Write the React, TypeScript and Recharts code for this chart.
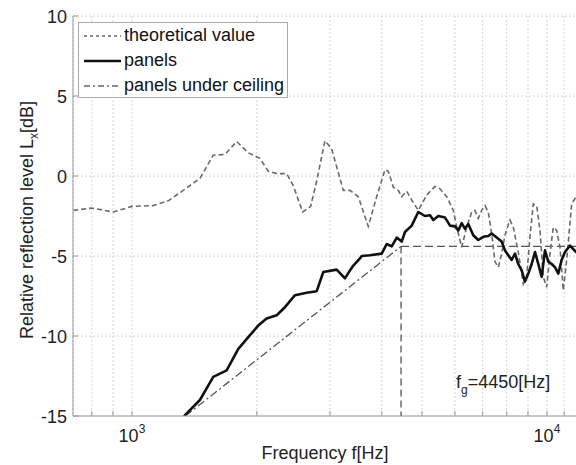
import React from 'react';
import { LineChart, Line, XAxis, YAxis, CartesianGrid, Legend, Customized } from 'recharts';

const FONT = "'Liberation Sans', Arial, Helvetica, sans-serif";

const xMin = 721;
const xMax = 13420;
const freqTicks = [800, 900, 1000, 2000, 3000, 4000, 5000, 6000, 7000, 8000, 9000, 10000, 11000, 12000, 13000];
const majorTicks = [1000, 10000];
const levelTicks = [-15, -10, -5, 0, 5, 10];

// panels under ceiling (grey dashed)
const ceilingFreq = [722, 800, 901, 1000, 1125, 1223, 1329, 1458, 1570, 1675, 1788, 1907, 2034, 2130, 2232, 2359, 2447, 2578, 2695, 2787, 2918, 3028, 3230, 3352, 3511, 3710, 3887, 4071, 4147, 4263, 4383, 4466, 4591, 4721, 4897, 5130, 5372, 5524, 5733, 5948, 6061, 6231, 6405, 6585, 6706, 6830, 6960, 7088, 7220, 7357, 7493, 7633, 7777, 7921, 8143, 8295, 8527, 8767, 8934, 9099, 9268, 9445, 9619, 9797, 9984, 10167, 10356, 10553, 10747, 10946, 11156, 11468, 11748, 12100, 12600];
const ceilingLevel = [-2.15, -2.0, -2.25, -1.9, -1.85, -1.55, -0.9, -0.15, 1.3, 1.35, 2.15, 1.45, 1.1, 0.3, 0.15, 0.15, -0.6, -2.25, -1.9, -0.3, 2.2, 1.7, -0.9, -0.9, -1.3, -3.15, -1.3, 0.4, 0.3, -0.7, -0.9, -1.3, -0.95, -1.5, -2.15, -1.2, -0.65, -0.8, -1.3, -2.15, -3.2, -4.45, -3.2, -2.25, -2.15, -2.65, -2.15, -1.85, -2.25, -3.6, -5.35, -5.7, -4.85, -3.7, -2.75, -3.2, -4.75, -6.75, -6.3, -3.8, -1.75, -1.85, -3.4, -6.3, -6.95, -4.85, -3.2, -3.4, -4.45, -7.15, -5.25, -1.75, -1.3, -2.2, -3.5];

// panels (black solid)
const panelsFreq = [1300, 1342, 1458, 1570, 1691, 1804, 1925, 2015, 2111, 2232, 2337, 2471, 2636, 2787, 2891, 3113, 3260, 3352, 3415, 3543, 3577, 3745, 3997, 4110, 4226, 4345, 4466, 4548, 4721, 4897, 5082, 5226, 5322, 5473, 5680, 5840, 6003, 6115, 6231, 6345, 6463, 6644, 6830, 7022, 7220, 7357, 7564, 7777, 7921, 8067, 8221, 8374, 8527, 8690, 8851, 9016, 9186, 9357, 9529, 9710, 9890, 10073, 10264, 10453, 10647, 10848, 11050, 11360, 11748, 12100];
const panelsLevel = [-15.6, -14.95, -14.0, -12.55, -12.15, -10.8, -9.95, -9.35, -8.9, -8.7, -8.2, -7.45, -7.3, -7.2, -6.0, -5.85, -6.4, -5.9, -5.6, -5.15, -5.0, -4.95, -4.85, -4.25, -4.4, -3.85, -4.1, -3.5, -3.1, -2.25, -2.5, -2.45, -2.75, -2.5, -2.6, -3.1, -3.15, -3.4, -2.95, -3.3, -3.0, -3.7, -4.0, -3.8, -3.75, -3.6, -3.85, -4.1, -4.65, -4.95, -5.25, -4.85, -5.5, -5.9, -6.6, -6.1, -5.5, -4.75, -5.5, -6.3, -4.65, -5.35, -5.5, -5.7, -6.1, -5.25, -4.75, -4.35, -4.75, -5.0];

// theoretical value
const slopeFreq = [1345, 4450];
const slopeLevel = [-15, -4.4];
const plateauFreq = [4450, 13420];
const plateauLevel = [-4.4, -4.4];
const fgFreq = [4450, 4450];
const fgLevel = [-4.4, -15];

const zip = (f: number[], v: number[]) => f.map((x, i) => ({ f: x, v: v[i] }));

const ceilingData = zip(ceilingFreq, ceilingLevel);
const panelsData = zip(panelsFreq, panelsLevel);
const slopeData = zip(slopeFreq, slopeLevel);
const plateauData = zip(plateauFreq, plateauLevel);
const fgData = zip(fgFreq, fgLevel);

const XTick = (props: any) => {
  const { x, payload } = props;
  const v = payload.value;
  if (!majorTicks.includes(v)) return <g />;
  const exp = Math.round(Math.log10(v));
  return (
    <text x={x} y={442} textAnchor="middle" fontSize={18} fill="#222" fontFamily={FONT}>
      <tspan>10</tspan>
      <tspan dy={-9} fontSize={12}>{exp}</tspan>
    </text>
  );
};

const YTick = (props: any) => {
  const { y, payload } = props;
  return (
    <text x={67} y={y} dy={6.5} textAnchor="end" fontSize={18} fill="#222" fontFamily={FONT}>
      {payload.value}
    </text>
  );
};

const Sample = ({ dash, color, width }: { dash?: string; color: string; width: number }) => (
  <svg width={42} height={10} style={{ display: 'block', flex: 'none' }}>
    <line x1={5} y1={5} x2={42} y2={5} stroke={color} strokeWidth={width} strokeDasharray={dash} />
  </svg>
);

const LegendBox = () => (
  <div
    style={{
      width: 210,
      height: 76,
      border: '1px solid #aaa',
      background: '#fff',
      boxSizing: 'border-box',
      fontFamily: FONT,
      fontSize: 18,
      color: '#111',
      paddingTop: 0,
    }}
  >
    {[
      { label: 'theoretical value', dash: '3 3', color: '#666', width: 1.4 },
      { label: 'panels', dash: undefined, color: '#111', width: 2.6 },
      { label: 'panels under ceiling', dash: '6 3 2 3', color: '#666', width: 1.4 },
    ].map((r) => (
      <div key={r.label} style={{ display: 'flex', alignItems: 'center', height: 25, whiteSpace: 'nowrap' }}>
        <Sample dash={r.dash} color={r.color} width={r.width} />
        <span style={{ marginLeft: 3, lineHeight: '25px' }}>{r.label}</span>
      </div>
    ))}
  </div>
);

const Labels = () => (
  <g fontFamily={FONT} fill="#222">
    <text x={325} y={459} textAnchor="middle" fontSize={18}>
      Frequency f[Hz]
    </text>
    <text transform="translate(33,220) rotate(-90)" textAnchor="middle" fontSize={18}>
      <tspan>Relative reflection level L</tspan>
      <tspan dy={5} fontSize={12}>x</tspan>
      <tspan dy={-5}>[dB]</tspan>
    </text>
    <text x={456} y={388} fontSize={18}>
      <tspan>f</tspan>
      <tspan dy={6} fontSize={12}>g</tspan>
      <tspan dy={-6}>=4450[Hz]</tspan>
    </text>
  </g>
);

export default function App() {
  return (
    <div
      style={{
        position: 'absolute',
        left: 0,
        top: 0,
        width: 576,
        height: 465,
        overflow: 'hidden',
        background: '#fff',
      }}
    >
      <LineChart width={620} height={465} margin={{ top: 16, right: 20, bottom: 0, left: 0 }}>
        <CartesianGrid stroke="#d2d2d2" strokeDasharray="2 2" />
        <XAxis
          dataKey="f"
          type="number"
          scale="log"
          domain={[xMin, xMax]}
          allowDataOverflow
          ticks={freqTicks}
          interval={0}
          height={49}
          tickSize={-5}
          axisLine={{ stroke: '#999' }}
          tickLine={{ stroke: '#999' }}
          tick={XTick}
        />
        <XAxis
          xAxisId="top"
          orientation="top"
          dataKey="f"
          type="number"
          scale="log"
          domain={[xMin, xMax]}
          allowDataOverflow
          ticks={freqTicks}
          interval={0}
          height={0}
          tickSize={-5}
          axisLine={{ stroke: '#999' }}
          tickLine={{ stroke: '#999' }}
          tick={false}
        />
        <YAxis
          type="number"
          domain={[-15, 10]}
          allowDataOverflow
          ticks={levelTicks}
          interval={0}
          width={73}
          tickSize={-5}
          axisLine={{ stroke: '#999' }}
          tickLine={{ stroke: '#999' }}
          tick={YTick}
        />
        <Line data={slopeData} dataKey="v" stroke="#555" strokeWidth={1.3} strokeDasharray="8 3 2 3" dot={false} isAnimationActive={false} />
        <Line data={plateauData} dataKey="v" stroke="#555" strokeWidth={1.3} strokeDasharray="8 4" dot={false} isAnimationActive={false} />
        <Line data={fgData} dataKey="v" stroke="#555" strokeWidth={1.3} strokeDasharray="7 4" dot={false} isAnimationActive={false} />
        <Line data={ceilingData} dataKey="v" stroke="#6a6a6a" strokeWidth={1.6} strokeDasharray="5 3" dot={false} isAnimationActive={false} />
        <Line data={panelsData} dataKey="v" stroke="#111" strokeWidth={2.6} strokeLinejoin="round" dot={false} isAnimationActive={false} />
        <Legend
          layout="horizontal"
          verticalAlign="middle"
          align="center"
          content={LegendBox}
          wrapperStyle={{ left: 78, top: 22, width: 210, height: 76 }}
        />
        <Customized component={Labels} />
      </LineChart>
    </div>
  );
}
